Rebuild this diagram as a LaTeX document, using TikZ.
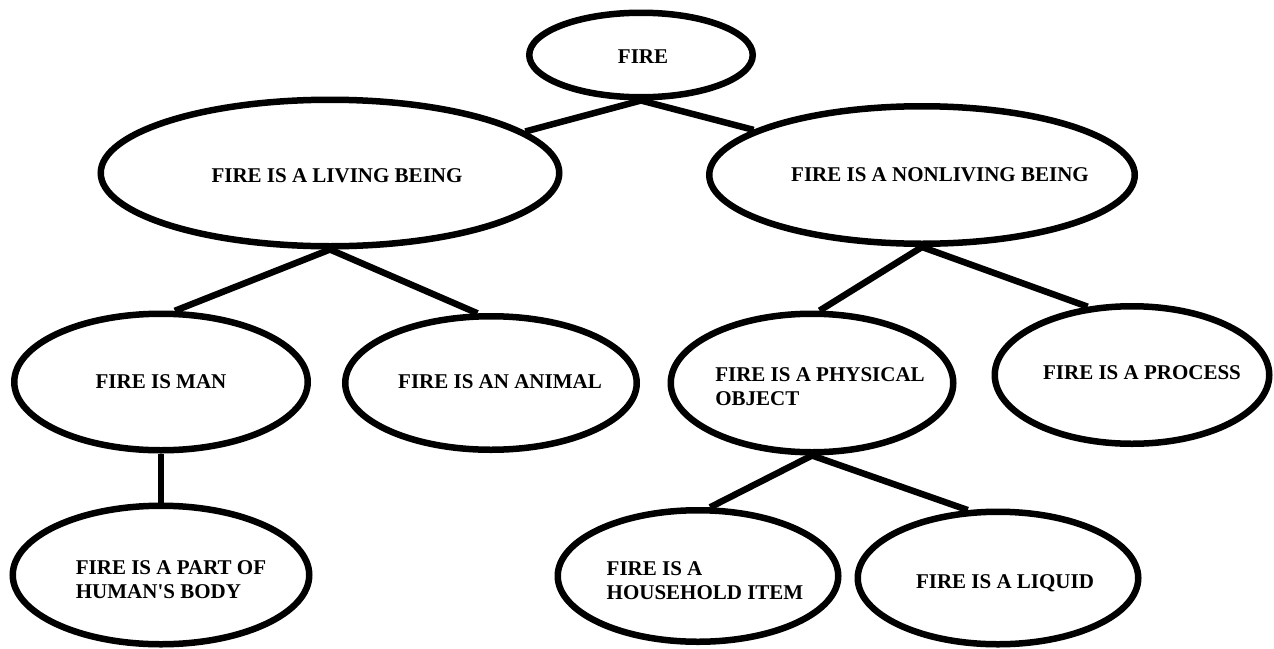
\documentclass[tikz,border=0pt]{standalone}
\usepackage{fontspec}
\setmainfont{Liberation Serif}[Ligatures=TeXOff]
\usetikzlibrary{shapes.geometric}

\tikzset{
	bubble/.style={ellipse, draw, line width=6.5pt, inner sep=0pt},
	txt/.style={font=\bfseries\fontsize{21}{24}\selectfont, align=left, inner sep=0pt},
	link/.style={line width=6.5pt}
}

\begin{document}
\begin{tikzpicture}[x=1pt, y=-1pt]
		\useasboundingbox (0,0) rectangle (1274,648);
		% elipsy: (x,y) srodka w pikselach, wymiary konturu
		\node[bubble, minimum width=223.5, minimum height=84.5] (fire) at (641,55) {};
		\node[bubble, minimum width=458.5, minimum height=146.5] (living) at (330,173) {};
		\node[bubble, minimum width=425.5, minimum height=137.5] (nonliving) at (922,175) {};
		\node[bubble, minimum width=293.5, minimum height=136.5] (man) at (161,382) {};
		\node[bubble, minimum width=291.5, minimum height=133.5] (animal) at (491,383) {};
		\node[bubble, minimum width=282.5, minimum height=138.5] (physical) at (812,383) {};
		\node[bubble, minimum width=274.5, minimum height=137.5] (process) at (1132,375) {};
		\node[bubble, minimum width=296.5, minimum height=138.5] (part) at (161,575) {};
		\node[bubble, minimum width=280.5, minimum height=131.5] (household) at (698,576) {};
		\node[bubble, minimum width=280.5, minimum height=132.5] (liquid) at (998,578) {};
		% napisy
		\node[txt] (fire-t) at (643,57) {FIRE};
		\node[txt] (living-t) at (337,176) {FIRE IS A LIVING BEING};
		\node[txt] (nonliving-t) at (940,175) {FIRE IS A NONLIVING BEING};
		\node[txt] (man-t) at (161,382) {FIRE IS MAN};
		\node[txt] (animal-t) at (500,382) {FIRE IS AN ANIMAL};
		\node[txt] (physical-t) at (820,387) {FIRE IS A PHYSICAL\\OBJECT};
		\node[txt] (process-t) at (1142,373) {FIRE IS A PROCESS};
		\node[txt] (part-t) at (171,580) {FIRE IS A PART OF\\HUMAN'S BODY};
		\node[txt] (household-t) at (705,581) {FIRE IS A\\HOUSEHOLD ITEM};
		\node[txt] (liquid-t) at (1005,583) {FIRE IS A LIQUID};
		% polaczenia
		\draw[link] (fire.south) -- (living.12);
		\draw[link] (fire.south) -- (nonliving.165);
		\draw[link] (living.south) -- (man.79);
		\draw[link] (living.south) -- (animal.101);
		\draw[link] (man.south) -- (part.north);
		\draw[link] (nonliving.south) -- (physical.84);
		\draw[link] (nonliving.south) -- (process.123);
		\draw[link] (physical.south) -- (household.80);
		\draw[link] (physical.south) -- (liquid.114);
	\end{tikzpicture}
\end{document}
